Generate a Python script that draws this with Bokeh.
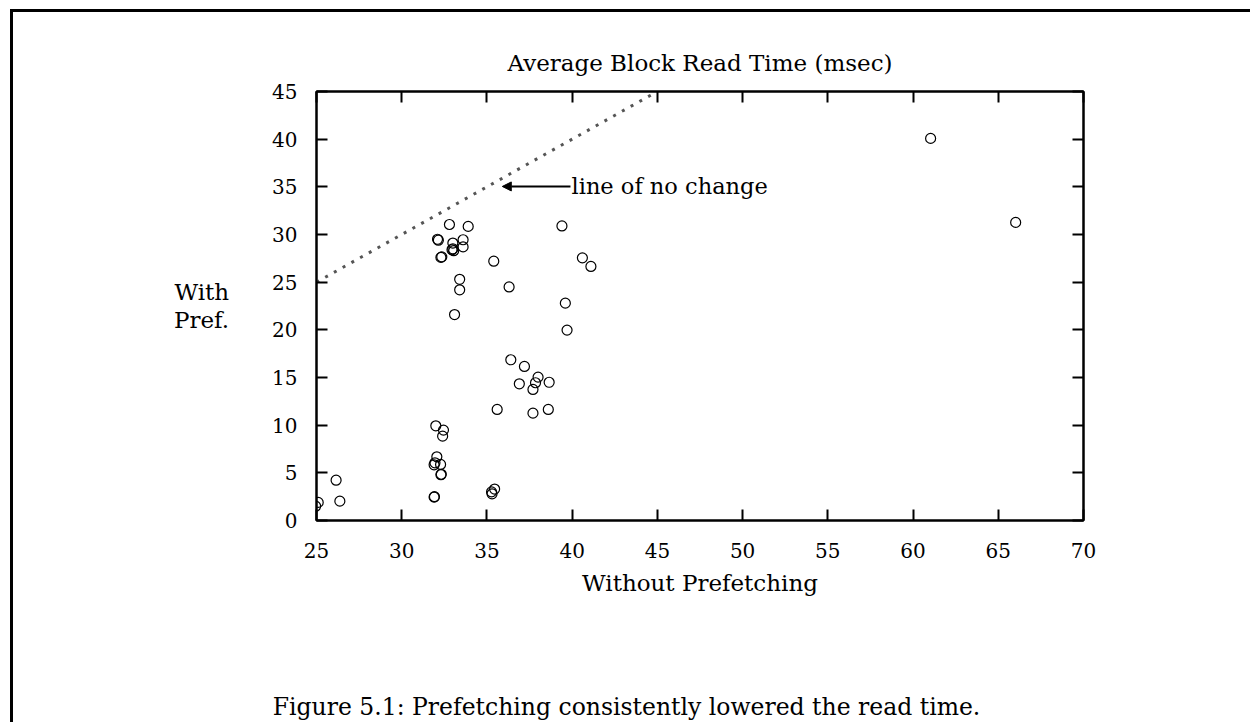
from bokeh.plotting import figure
from bokeh.layouts import column
from bokeh.models import Range1d, Label, Arrow, NormalHead, LinearAxis, FixedTicker
from bokeh.embed import file_html
from bokeh.resources import INLINE

# ---- data ----
x_ticks = [25, 30, 35, 40, 45, 50, 55, 60, 65, 70]
y_ticks = [0, 5, 10, 15, 20, 25, 30, 35, 40, 45]

without_pref = [32.8, 33.9, 39.4, 32.1, 32.15, 33.0, 33.6, 33.6, 33.0, 33.05, 32.95,
                32.3, 32.35, 35.4, 40.6, 41.1, 33.4, 33.4, 36.3, 39.6, 33.1, 39.7,
                36.4, 37.2, 38.0, 36.9, 37.85, 38.65, 37.7, 35.6, 37.7, 38.6,
                32.0, 32.45, 32.4, 32.06, 31.9, 31.95, 32.28, 32.3, 32.32,
                26.15, 26.37, 25.1, 24.95, 31.9, 31.92, 35.27, 35.45, 35.3,
                61.03, 66.02]
with_pref = [31.05, 30.85, 30.9, 29.5, 29.4, 29.1, 29.45, 28.7, 28.5, 28.3, 28.4,
             27.6, 27.65, 27.2, 27.55, 26.65, 25.3, 24.2, 24.5, 22.8, 21.6, 19.97,
             16.86, 16.16, 15.04, 14.34, 14.45, 14.5, 13.75, 11.65, 11.26, 11.65,
             9.93, 9.48, 8.85, 6.68, 5.84, 6.05, 5.88, 4.8, 4.85,
             4.23, 2.03, 1.9, 1.5, 2.45, 2.5, 3.0, 3.3, 2.8,
             40.08, 31.27]

no_change_x = [25, 45]
no_change_y = [25, 45]

title_text = "Average Block Read Time (msec)"
x_label = "Without Prefetching"
y_label = "With\nPref."
arrow_text = "line of no change"
caption = "Figure 5.1: Prefetching consistently lowered the read time."

FONT = "DejaVu Serif"
FS = "20px"
TFS = "23px"

W = 1237
H1 = 600
H2 = 110

p = figure(width=W, height=H1, output_backend="svg", toolbar_location=None,
           x_range=Range1d(25, 70), y_range=Range1d(0, 45),
           min_border_left=303, min_border_right=W - 303 - 767,
           min_border_top=79, min_border_bottom=H1 - 79 - 429)
p.grid.visible = False
p.outline_line_color = "black"
p.outline_line_width = 2
p.background_fill_color = "white"
p.border_fill_color = "white"

p.title.text = title_text
p.title.align = "center"
p.title.text_font = FONT
p.title.text_font_size = TFS
p.title.text_font_style = "normal"
p.title.text_color = "black"
p.title.standoff = 32

def style_axis(ax, ticks):
    ax.ticker = FixedTicker(ticks=ticks)
    ax.major_tick_in = 11
    ax.major_tick_out = 0
    ax.minor_tick_line_color = None
    ax.major_tick_line_width = 2
    ax.axis_line_width = 2
    ax.axis_line_color = "black"
    ax.major_tick_line_color = "black"
    ax.major_label_text_font = FONT
    ax.major_label_text_font_size = FS
    ax.major_label_text_color = "black"
    ax.axis_label_text_font = FONT
    ax.axis_label_text_font_size = TFS
    ax.axis_label_text_font_style = "normal"
    ax.axis_label_text_color = "black"

xa = p.xaxis[0]
ya = p.yaxis[0]
style_axis(xa, x_ticks)
style_axis(ya, y_ticks)
xa.major_label_standoff = 22
ya.major_label_standoff = 19
xa.axis_label = x_label
xa.axis_label_standoff = 9
ya.axis_label = y_label
ya.axis_label_orientation = "horizontal"
ya.axis_label_text_align = "left"
ya.axis_label_text_line_height = 1.05
ya.axis_label_standoff = 40

top = LinearAxis()
right = LinearAxis()
style_axis(top, x_ticks)
style_axis(right, y_ticks)
for ax in (top, right):
    ax.major_label_text_font_size = "0px"
    ax.major_label_text_color = None
    ax.major_label_standoff = 0
p.add_layout(top, "above")
p.add_layout(right, "right")

# line of no change (dotted)
p.line(no_change_x, no_change_y, line_color="#555555", line_width=3, line_dash="3 7")

# points
p.scatter(without_pref, with_pref, marker="circle", size=10, fill_color=None,
          line_color="black", line_width=1.2)

# arrow + annotation
p.add_layout(Arrow(end=NormalHead(size=9, fill_color="black", line_color="black"),
                   x_start=39.9, y_start=35.04, x_end=35.9, y_end=35.04,
                   line_color="black", line_width=2))
p.add_layout(Label(x=39.96, y=35.04, text=arrow_text, text_font=FONT, text_font_size="22.5px",
                   text_baseline="middle", text_align="left", text_color="black"))

# caption strip (pixel coordinates inside its own full-width frame)
c = figure(width=W, height=H2, output_backend="svg", toolbar_location=None,
           x_range=Range1d(0, W), y_range=Range1d(0, H2),
           min_border_left=0, min_border_right=0, min_border_top=0, min_border_bottom=0,
           x_axis_type=None, y_axis_type=None)
c.frame_align = False
c.grid.visible = False
c.outline_line_color = None
c.background_fill_color = "white"
c.border_fill_color = "white"
c.add_layout(Label(x=613, y=16, text=caption, text_font=FONT, text_font_size="23.5px",
                   text_baseline="middle", text_align="center", text_color="black"))

layout = column(p, c, spacing=0)
layout.styles = {"margin-left": "10px", "margin-top": "9px",
                 "border-left": "3px solid black", "border-top": "3px solid black"}

open("out.html", "w").write(file_html(layout, INLINE))
